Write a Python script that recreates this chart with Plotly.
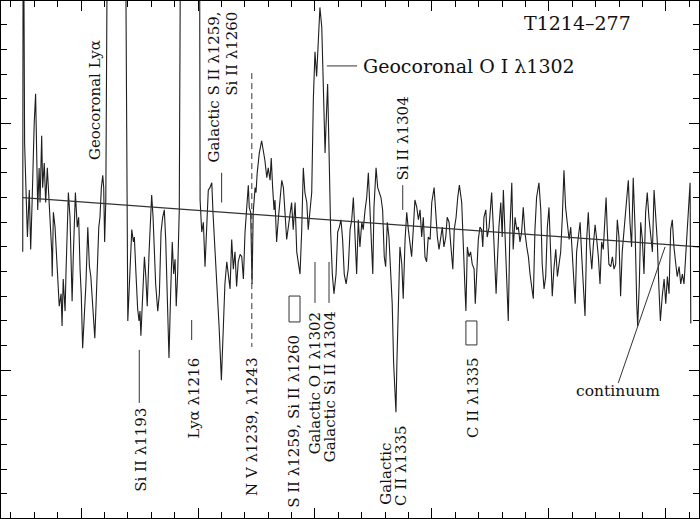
import plotly.graph_objects as go

# Spectrum of T1214-277 (wavelength in Angstrom, flux in arbitrary units)
wave = [
    1175.1, 1175.3, 1175.9, 1176.5, 1177.1, 1177.9, 1178.5, 1179.1, 1179.6, 1180.0,
    1180.6, 1181.1, 1181.5, 1182.1, 1182.5, 1183.2, 1183.6, 1184.3, 1184.9, 1185.6,
    1186.3, 1187.1, 1187.5, 1187.7, 1188.2, 1188.9, 1189.9, 1190.7, 1191.5, 1191.9,
    1192.4, 1193.2, 1193.6, 1194.6, 1195.3, 1195.7, 1196.2, 1196.7, 1197.6, 1198.4,
    1199.0, 1199.6, 1200.1, 1200.7, 1201.3, 1202.1, 1202.9, 1203.6, 1204.2, 1204.7,
    1205.3, 1205.9, 1206.3, 1207.0, 1207.6, 1208.1, 1208.7, 1209.3, 1209.7, 1210.1,
    1210.6, 1211.5, 1218.8, 1220.0, 1220.9, 1221.7, 1222.4, 1222.8, 1223.5, 1224.2,
    1224.8, 1225.2, 1225.6, 1226.2, 1227.1, 1227.7, 1228.3, 1229.1, 1229.8, 1230.2,
    1230.8, 1231.3, 1231.9, 1232.8, 1233.5, 1234.2, 1234.9, 1235.6, 1236.2, 1236.9,
    1237.6, 1238.3, 1239.0, 1239.6, 1240.2, 1240.7, 1241.3, 1242.0, 1242.7, 1250.6,
    1250.9, 1251.6, 1252.3, 1253.0, 1253.7, 1254.4, 1255.1, 1255.9, 1256.4, 1257.3,
    1258.1, 1259.0, 1260.0, 1261.5, 1262.3, 1263.0, 1263.7, 1264.4, 1265.1, 1265.8,
    1266.5, 1267.2, 1268.0, 1268.7, 1269.4, 1270.1, 1270.8, 1271.5, 1271.9, 1272.5,
    1273.1, 1273.6, 1274.4, 1274.8, 1275.3, 1276.2, 1277.2, 1277.9, 1278.6, 1279.4,
    1280.0, 1280.8, 1281.3, 1281.9, 1282.5, 1282.9, 1283.6, 1284.3, 1285.0, 1285.8,
    1286.5, 1287.2, 1287.9, 1288.6, 1289.3, 1290.0, 1290.7, 1291.5, 1292.2, 1292.9,
    1293.6, 1294.3, 1295.0, 1295.7, 1296.5, 1297.1, 1297.9, 1298.6, 1299.3, 1300.0,
    1300.7, 1301.4, 1302.1, 1302.9, 1303.6, 1304.3, 1304.7, 1305.4, 1306.0, 1306.7,
    1307.4, 1308.1, 1309.0, 1309.7, 1310.4, 1311.1, 1311.8, 1312.5, 1313.3, 1314.2,
    1315.0, 1315.7, 1316.4, 1317.1, 1317.8, 1318.5, 1319.2, 1320.0, 1320.6, 1321.4,
    1322.1, 1322.8, 1323.5, 1324.2, 1324.7, 1325.2, 1326.1, 1326.8, 1327.5, 1328.2,
    1328.9, 1329.6, 1330.2, 1330.9, 1331.6, 1332.4, 1333.0, 1333.6, 1334.2, 1334.6,
    1335.0, 1335.6, 1336.3, 1337.1, 1337.7, 1338.5, 1339.2, 1339.9, 1340.6, 1341.3,
    1342.0, 1342.7, 1343.5, 1344.2, 1344.9, 1345.6, 1346.3, 1347.0, 1347.7, 1348.4,
    1349.2, 1349.9, 1350.9, 1351.6, 1352.3, 1353.0, 1353.7, 1354.4, 1355.1, 1355.9,
    1356.5, 1357.3, 1358.1, 1358.9, 1359.5, 1360.3, 1361.0, 1361.7, 1362.7, 1363.4,
    1364.1, 1364.5, 1365.1, 1365.8, 1366.5, 1367.2, 1368.0, 1368.5, 1369.1, 1369.8,
    1370.5, 1371.2, 1371.7, 1372.2, 1373.0, 1373.6, 1374.4, 1375.1, 1375.5, 1376.2,
    1376.9, 1377.4, 1377.9, 1378.6, 1379.4, 1380.0, 1380.5, 1381.2, 1381.9, 1382.6,
    1383.3, 1384.1, 1384.7, 1385.5, 1386.2, 1386.9, 1387.6, 1388.3, 1389.0, 1389.7,
    1390.5, 1391.2, 1391.9, 1392.6, 1393.3, 1394.0, 1394.7, 1395.7, 1396.5, 1397.1,
    1397.9, 1398.6, 1399.3, 1400.0, 1400.7, 1401.4, 1402.1, 1402.9, 1403.6, 1404.3,
    1405.0, 1405.7, 1406.4, 1407.1, 1407.8, 1408.6, 1409.3, 1410.0, 1410.7, 1411.2,
    1411.8, 1412.5, 1413.3, 1414.0, 1414.7, 1415.4, 1416.1, 1416.8, 1417.5, 1418.3,
    1418.9, 1419.7, 1420.4, 1421.1, 1421.8, 1422.5, 1423.2, 1423.9, 1424.4, 1424.9,
    1425.6, 1426.4, 1427.1, 1427.8, 1428.5, 1429.2, 1429.9, 1430.6, 1431.3, 1432.1,
    1432.8, 1433.5, 1433.9, 1434.6, 1435.3, 1436.0, 1436.8, 1437.5, 1437.9, 1438.6,
    1439.2, 1439.9, 1440.6, 1441.3, 1442.0, 1442.7, 1443.5, 1444.2, 1444.9, 1445.6,
    1446.3, 1447.0, 1447.6, 1448.4, 1449.2, 1449.9, 1450.6, 1451.3, 1452.0, 1452.7,
    1453.4, 1454.2, 1454.8, 1455.6, 1456.3, 1457.0, 1457.7, 1458.4, 1459.1, 1459.8,
    1460.3, 1460.6,
]
flux = [
    1.48, 3.20, 1.92, 1.70, 1.54, 1.73, 1.49, 1.68, 1.89, 2.00,
    2.12, 1.77, 1.65, 1.82, 1.68, 1.95, 1.74, 1.84, 1.68, 1.82,
    1.69, 1.57, 1.48, 1.38, 1.64, 1.58, 1.37, 1.26, 1.31, 1.18,
    1.37, 1.24, 1.40, 1.72, 1.62, 1.48, 1.28, 1.46, 1.72, 1.58,
    1.62, 1.41, 1.31, 1.09, 1.20, 1.35, 1.58, 1.42, 1.38, 1.29,
    1.23, 1.13, 1.23, 1.42, 1.58, 1.62, 1.74, 1.79, 1.74, 1.52,
    1.69, 3.20, 3.20, 1.20, 1.37, 1.57, 1.52, 1.54, 1.39, 1.25,
    1.20, 1.24, 1.14, 1.29, 1.46, 1.38, 1.26, 1.48, 1.61, 1.71,
    1.62, 1.52, 1.35, 1.24, 1.31, 1.56, 1.62, 1.65, 1.53, 1.29,
    1.05, 1.31, 1.52, 1.39, 1.45, 1.26, 1.39, 1.65, 3.20, 3.20,
    1.69, 1.56, 1.60, 1.42, 1.56, 1.73, 1.74, 1.76, 1.64, 1.49,
    1.33, 1.18, 0.96, 1.35, 1.44, 1.38, 1.33, 1.53, 1.41, 1.48,
    1.34, 1.44, 1.47, 1.46, 1.37, 1.56, 1.66, 1.75, 1.66, 1.64,
    1.35, 1.64, 1.74, 1.72, 1.80, 1.88, 1.93, 1.89, 1.85, 1.78,
    1.82, 1.77, 1.86, 1.74, 1.65, 1.69, 1.52, 1.61, 1.69, 1.77,
    1.74, 1.62, 1.53, 1.58, 1.64, 1.68, 1.57, 1.68, 1.48, 1.44,
    1.39, 1.56, 1.82, 1.72, 1.68, 1.57, 1.64, 1.72, 2.10, 2.29,
    2.19, 2.33, 2.47, 2.39, 2.10, 1.88, 1.99, 2.16, 1.89, 1.56,
    1.39, 1.31, 1.39, 1.56, 1.58, 1.61, 1.53, 1.39, 1.35, 1.41,
    1.57, 1.61, 1.70, 1.54, 1.39, 1.61, 1.50, 1.60, 1.57, 1.65,
    1.70, 1.80, 1.64, 1.46, 1.39, 1.66, 1.82, 1.74, 1.72, 1.70,
    1.65, 1.46, 1.42, 1.60, 1.54, 1.41, 1.27, 1.03, 0.87, 0.83,
    1.03, 1.30, 1.50, 1.43, 1.29, 1.53, 1.64, 1.57, 1.52, 1.46,
    1.57, 1.69, 1.66, 1.61, 1.65, 1.54, 1.62, 1.46, 1.44, 1.54,
    1.53, 1.68, 1.74, 1.62, 1.54, 1.49, 1.53, 1.58, 1.50, 1.54,
    1.62, 1.60, 1.50, 1.41, 1.57, 1.62, 1.70, 1.75, 1.68, 1.46,
    1.33, 1.24, 1.50, 1.46, 1.48, 1.43, 1.41, 1.27, 1.39, 1.53,
    1.58, 1.57, 1.50, 1.62, 1.65, 1.54, 1.58, 1.66, 1.72, 1.58,
    1.45, 1.31, 1.43, 1.58, 1.68, 1.54, 1.73, 1.57, 1.41, 1.20,
    1.57, 1.76, 1.49, 1.62, 1.57, 1.58, 1.52, 1.56, 1.66, 1.56,
    1.50, 1.46, 1.39, 1.33, 1.29, 1.57, 1.70, 1.76, 1.65, 1.43,
    1.33, 1.38, 1.58, 1.66, 1.46, 1.30, 1.41, 1.49, 1.38, 1.43,
    1.48, 1.62, 1.81, 1.66, 1.60, 1.53, 1.58, 1.46, 1.38, 1.27,
    1.48, 1.53, 1.60, 1.46, 1.35, 1.22, 1.53, 1.64, 1.50, 1.41,
    1.50, 1.59, 1.53, 1.46, 1.35, 1.52, 1.49, 1.62, 1.70, 1.57,
    1.43, 1.42, 1.46, 1.41, 1.43, 1.61, 1.54, 1.30, 1.48, 1.57,
    1.64, 1.70, 1.77, 1.60, 1.50, 1.78, 1.57, 1.27, 1.18, 1.35,
    1.60, 1.53, 1.39, 1.64, 1.72, 1.62, 1.54, 1.48, 1.73, 1.64,
    1.52, 1.33, 1.20, 1.30, 1.37, 1.27, 1.38, 1.31, 1.57, 1.61,
    1.50, 1.43, 1.38, 1.42, 1.35, 1.39, 1.35, 1.46, 1.57, 1.70,
    1.76, 1.19,
]

# fitted continuum
cont_wave = [1175.1, 1464.1]
cont_flux = [1.70, 1.50]

# line-identification tick marks (wavelength / flux end points)
tick_x0 = [1260.1, 1305.1, 1337.5, 1224.9, 1247.3, 1273.0, 1300.0, 1306.0, 1429.6]
tick_y0 = [1.80, 2.233, 1.75, 1.083, 1.204, 2.204, 1.439, 1.439, 0.949]
tick_x1 = [1260.1, 1318.0, 1337.5, 1224.9, 1247.3, 1273.0, 1300.0, 1306.0, 1449.6]
tick_y1 = [1.68, 2.233, 1.65, 0.868, 1.123, 1.095, 1.273, 1.273, 1.500]
tick_dash = ["solid", "solid", "solid", "solid", "solid", "6px,4px", "solid", "solid", "solid"]

# doublet brackets
brk_x0 = [1288.9, 1364.5]
brk_x1 = [1293.6, 1369.2]
brk_y0 = [1.196, 1.103]
brk_y1 = [1.301, 1.200]

# labels
lab_text = [
    "Geocoronal Lyα",
    "Galactic S II λ1259,",
    "Si II λ1260",
    "Si II λ1304",
    "Si II λ1193",
    "Lyα λ1216",
    "N V λ1239, λ1243",
    "S II λ1259, Si II λ1260",
    "Galactic O I λ1302",
    "Galactic Si II λ1304",
    "Galactic",
    "C II λ1335",
    "C II λ1335",
    "Geocoronal O I λ1302",
    "T1214–277",
    "continuum",
]
lab_x = [1206.0, 1256.9, 1264.5, 1337.8, 1225.6, 1248.1, 1273.1, 1291.2,
         1300.0, 1306.4, 1330.3, 1337.0, 1367.3, 1319.7, 1412.2, 1429.5]
lab_y = [2.095, 2.46, 2.46, 1.941, 0.678, 0.888, 0.771, 0.793,
         1.249, 1.249, 0.447, 0.443, 0.890, 2.233, 2.405, 0.916]
lab_angle = [-90, -90, -90, -90, -90, -90, -90, -90,
             -90, -90, -90, -90, -90, 0, 0, 0]
lab_xanchor = ["center"] * 13 + ["left", "center", "center"]
lab_yanchor = ["middle", "top", "top", "middle", "middle", "middle", "middle", "middle",
               "top", "top", "bottom", "bottom", "middle", "middle", "middle", "middle"]
lab_size = [15] * 13 + [19, 19, 15.5]

fig = go.Figure()
fig.add_trace(go.Scatter(x=wave, y=flux, mode="lines",
                         line=dict(color="#1e1e1e", width=1.1), hoverinfo="skip"))
fig.add_trace(go.Scatter(x=cont_wave, y=cont_flux, mode="lines",
                         line=dict(color="#333333", width=1.2), hoverinfo="skip"))

for x0, y0, x1, y1, d in zip(tick_x0, tick_y0, tick_x1, tick_y1, tick_dash):
    fig.add_shape(type="line", x0=x0, y0=y0, x1=x1, y1=y1, xref="x", yref="y",
                  line=dict(color="#333333", width=1, dash=d))

for x0, x1, y0, y1 in zip(brk_x0, brk_x1, brk_y0, brk_y1):
    fig.add_shape(type="rect", x0=x0, x1=x1, y0=y0, y1=y1, xref="x", yref="y",
                  line=dict(color="#333333", width=1))

for t, x, y, a, xa, ya, s in zip(lab_text, lab_x, lab_y, lab_angle,
                                 lab_xanchor, lab_yanchor, lab_size):
    fig.add_annotation(text=t, x=x, y=y, xref="x", yref="y", showarrow=False,
                       textangle=a, xanchor=xa, yanchor=ya,
                       font=dict(family="DejaVu Serif", size=s, color="#111111"))

fig.update_layout(
    width=700, height=519,
    margin=dict(l=1, r=1, t=1, b=1),
    paper_bgcolor="white", plot_bgcolor="white",
    showlegend=False,
    xaxis=dict(range=[1165.81, 1464.11], showgrid=False, zeroline=False,
               showline=True, linecolor="black", linewidth=1, mirror="ticks",
               ticks="inside", tick0=1200, dtick=50, ticklen=10, tickcolor="black",
               showticklabels=False,
               minor=dict(ticks="inside", tick0=1200, dtick=10, ticklen=6,
                          tickcolor="black", showgrid=False)),
    yaxis=dict(range=[0.402, 2.496], showgrid=False, zeroline=False,
               showline=True, linecolor="black", linewidth=1, mirror="ticks",
               ticks="inside", tick0=0, dtick=1, ticklen=10, tickcolor="black",
               showticklabels=False,
               minor=dict(ticks="inside", tick0=0, dtick=0.1, ticklen=6,
                          tickcolor="black", showgrid=False)),
)

fig.write_html("out.html")
